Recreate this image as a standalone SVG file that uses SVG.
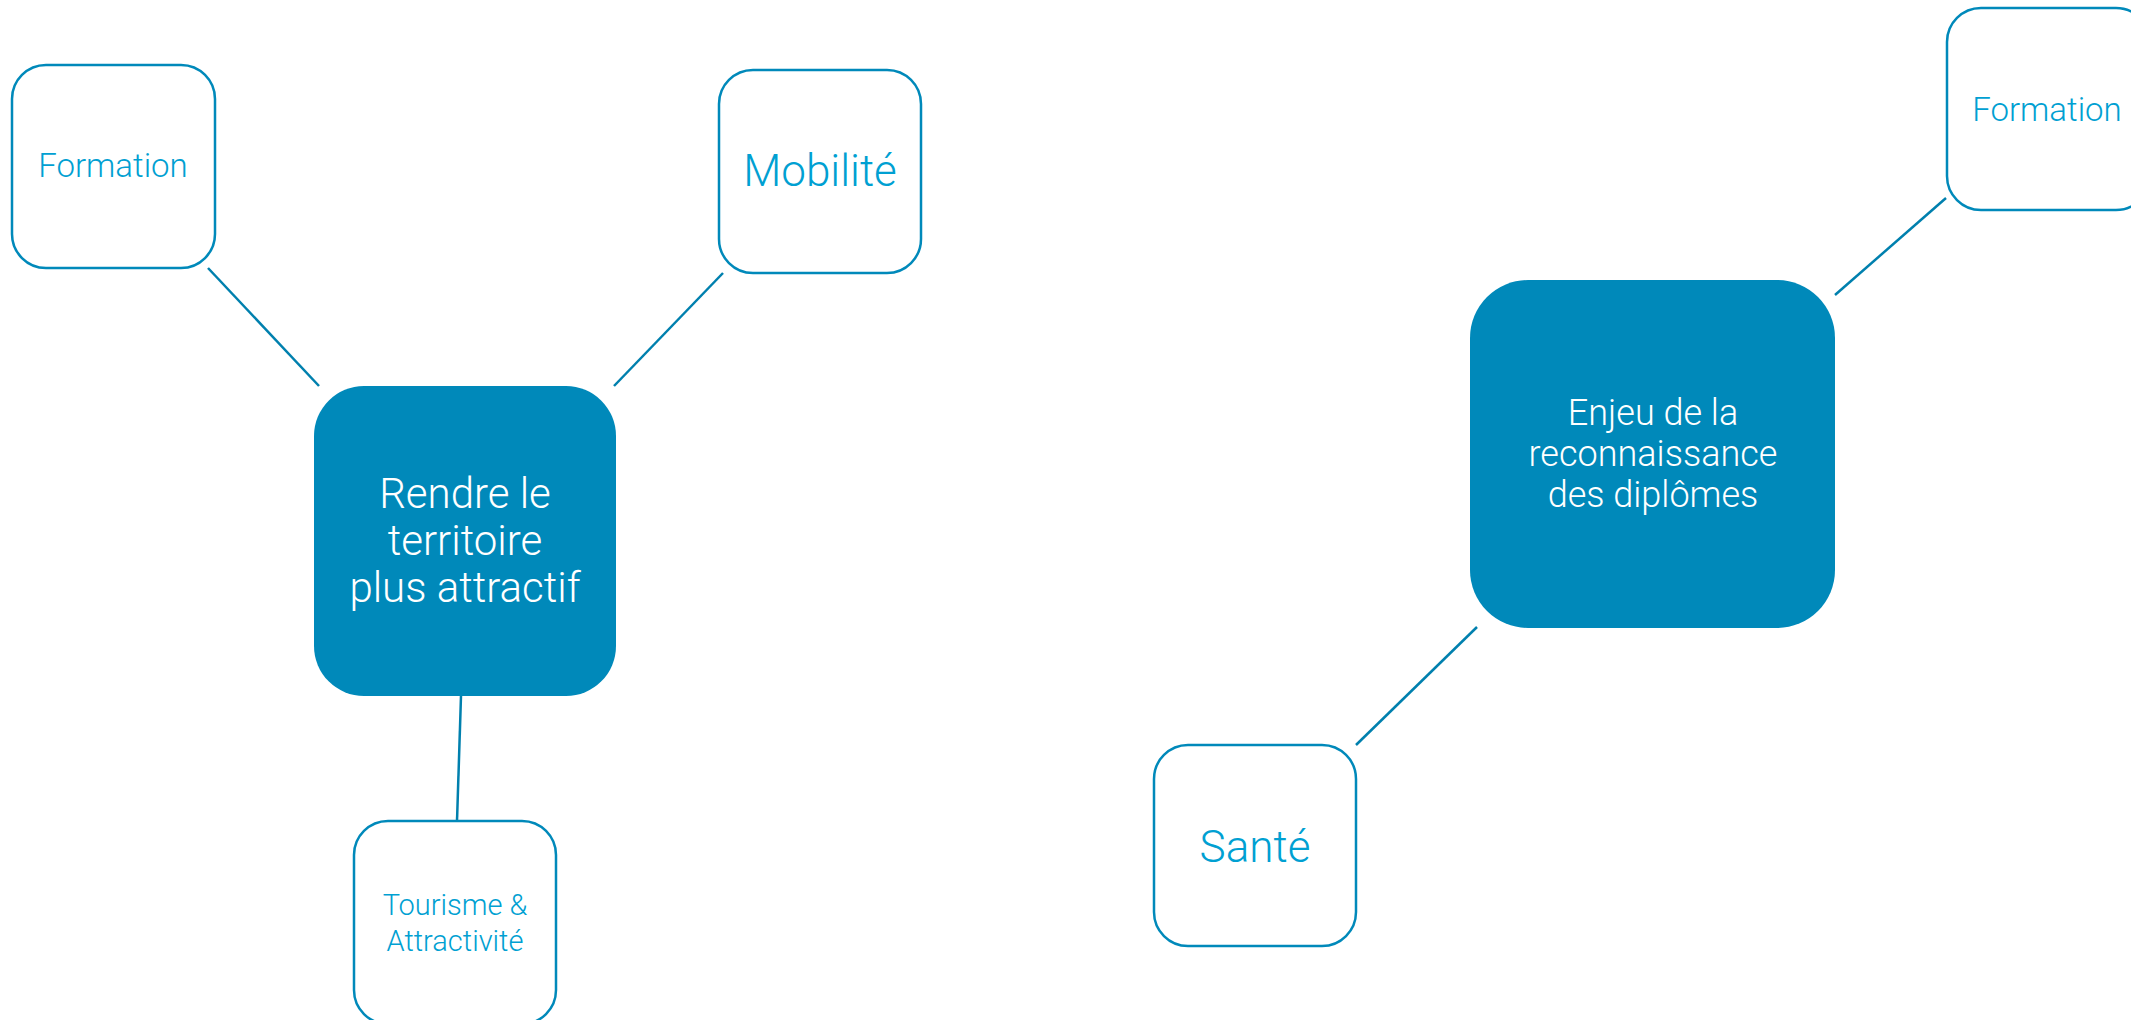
<svg xmlns="http://www.w3.org/2000/svg" width="2131" height="1020" viewBox="0 0 2131 1020">
<style>
.leaf{fill:#ffffff;stroke:#0089BA;stroke-width:2.5}
.hub{fill:#0089BA;stroke:none}
.lt{font-family:Roboto,"Liberation Sans",sans-serif;font-weight:300;fill:#00A0D2;text-anchor:middle}
.ht{font-family:Roboto,"Liberation Sans",sans-serif;font-weight:300;fill:#ffffff;text-anchor:middle}
.conn line{stroke:#0080AE;stroke-width:2.5}
</style>
<rect width="2131" height="1020" fill="#ffffff"/>
<g id="connectors" class="conn">
<line x1="208" y1="268" x2="319" y2="386"/>
<line x1="723" y1="273" x2="614" y2="386"/>
<line x1="461" y1="696" x2="457" y2="821"/>
<line x1="1946" y1="198" x2="1835" y2="295"/>
<line x1="1356" y1="745" x2="1477" y2="627"/>
</g>
<g id="hub-territoire">
<rect class="hub" x="314" y="386" width="302" height="310" rx="50"/>
<text class="ht" font-size="42" x="465"><tspan x="465" y="508">Rendre le</tspan><tspan x="465" y="555">territoire</tspan><tspan x="465" y="602">plus attractif</tspan></text>
</g>
<g id="leaf-formation-left">
<rect class="leaf" x="12" y="65" width="203" height="203" rx="34"/>
<text class="lt" font-size="33" x="113" y="177">Formation</text>
</g>
<g id="leaf-mobilite">
<rect class="leaf" x="719" y="70" width="202" height="203" rx="34"/>
<text class="lt" font-size="44" x="820" y="186">Mobilité</text>
</g>
<g id="leaf-tourisme">
<rect class="leaf" x="354" y="821" width="202" height="203" rx="34"/>
<text class="lt" font-size="29"><tspan x="455" y="915">Tourisme &amp;</tspan><tspan x="455" y="951">Attractivité</tspan></text>
</g>
<g id="hub-diplomes">
<rect class="hub" x="1470" y="280" width="365" height="348" rx="58"/>
<text class="ht" font-size="36"><tspan x="1653" y="425">Enjeu de la</tspan><tspan x="1653" y="466">reconnaissance</tspan><tspan x="1653" y="507">des diplômes</tspan></text>
</g>
<g id="leaf-formation-right">
<rect class="leaf" x="1947" y="8" width="203" height="202" rx="34"/>
<text class="lt" font-size="33" x="2047" y="121">Formation</text>
</g>
<g id="leaf-sante">
<rect class="leaf" x="1154" y="745" width="202" height="201" rx="34"/>
<text class="lt" font-size="44" x="1255" y="862">Santé</text>
</g>
</svg>
